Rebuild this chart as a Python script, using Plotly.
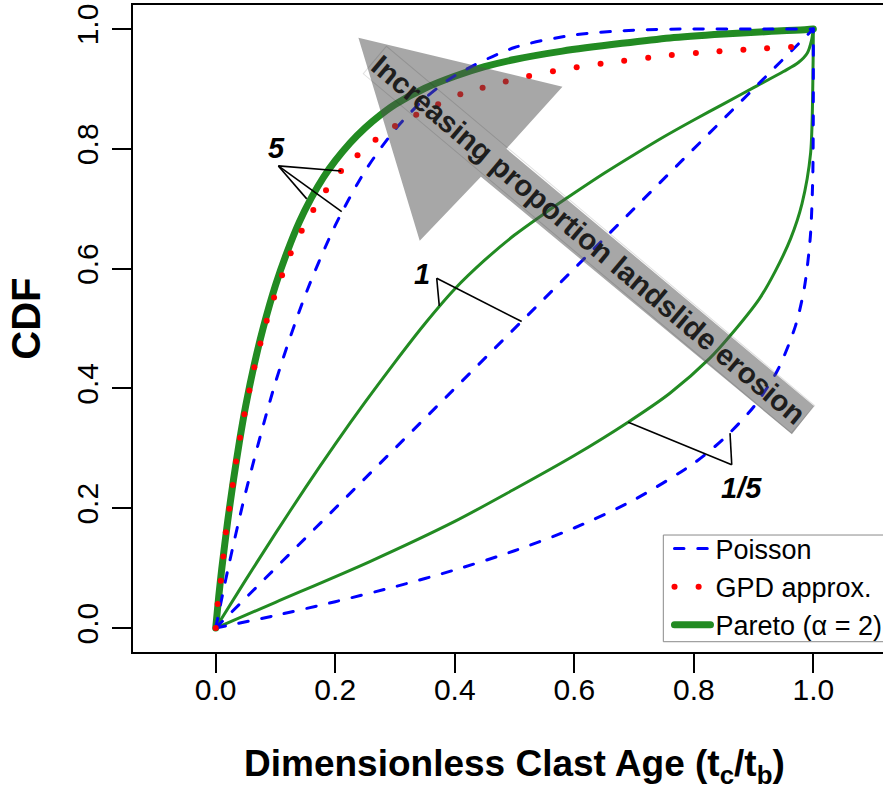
import plotly.graph_objects as go

# ---------------- data ----------------
# Poisson CDFs (blue dashed), for ratios 5, 1 and 1/5
pois5_x = [0, 0.02, 0.05, 0.10, 0.15, 0.20, 0.25, 0.30, 0.35, 0.40, 0.50, 0.60, 0.70, 0.80, 0.90, 1.00]
pois5_y = [0, 0.096, 0.226, 0.410, 0.556, 0.672, 0.763, 0.832, 0.884, 0.922, 0.969, 0.990, 0.998, 1.0, 1.0, 1.0]
pois1_x = [0, 1.0]
pois1_y = [0, 1.0]
pois15_x = [0, 0.10, 0.20, 0.30, 0.40, 0.50, 0.60, 0.70, 0.80, 0.85, 0.90, 0.94, 0.97, 0.985, 0.995, 0.999, 0.9999, 1.0]
pois15_y = [0, 0.021, 0.044, 0.069, 0.097, 0.129, 0.167, 0.214, 0.275, 0.316, 0.369, 0.430, 0.504, 0.568, 0.653, 0.749, 0.842, 1.0]

# Pareto (alpha = 2) CDFs (green)
par5_x = [0, 0.005, 0.01, 0.02, 0.03, 0.04, 0.05, 0.065, 0.08, 0.10, 0.12, 0.14, 0.16, 0.18, 0.20,
          0.225, 0.25, 0.275, 0.30, 0.35, 0.40, 0.45, 0.50, 0.58, 0.68, 0.76, 0.85, 0.93, 0.99, 1.0]
par5_y = [0, 0.052, 0.098, 0.178, 0.249, 0.313, 0.370, 0.442, 0.503, 0.572, 0.629, 0.678, 0.718, 0.752, 0.780,
          0.810, 0.835, 0.856, 0.874, 0.901, 0.921, 0.937, 0.949, 0.963, 0.976, 0.985, 0.9915, 0.996, 0.999, 1.0]
par1_x = [0, 0.05, 0.10, 0.15, 0.20, 0.25, 0.30, 0.35, 0.40, 0.45, 0.50, 0.55, 0.60, 0.65, 0.70,
          0.75, 0.80, 0.85, 0.90, 0.95, 0.975, 0.99, 0.997, 1.0]
par1_y = [0, 0.080, 0.158, 0.234, 0.307, 0.377, 0.444, 0.508, 0.566, 0.614, 0.656, 0.692, 0.726, 0.759, 0.790,
          0.820, 0.848, 0.875, 0.902, 0.929, 0.944, 0.960, 0.981, 1.0]
par15_x = [0, 0.10, 0.258, 0.40, 0.498, 0.60, 0.690, 0.760, 0.827, 0.86, 0.91, 0.936, 0.962, 0.981, 0.9955, 0.9995, 1.0]
par15_y = [0, 0.043, 0.111, 0.178, 0.2308, 0.288, 0.3437, 0.392, 0.4505, 0.487, 0.550, 0.595, 0.650, 0.708, 0.793, 0.935, 1.0]

# GPD approximation for ratio 5 (red dots)
gpd_x = [0, 0.0033, 0.0084, 0.0127, 0.017, 0.0228, 0.0284, 0.034, 0.0407, 0.048, 0.0563, 0.0646, 0.0747,
         0.0853, 0.0976, 0.111, 0.1255, 0.1439, 0.1633, 0.1846, 0.2097, 0.2373, 0.2674, 0.300, 0.3355,
         0.3722, 0.4093, 0.4466, 0.4853, 0.5244, 0.5643, 0.604, 0.644, 0.6835, 0.7237, 0.7632, 0.8035,
         0.843, 0.883, 0.9226, 0.9628]
gpd_y = [0, 0.040, 0.079, 0.1195, 0.160, 0.199, 0.2386, 0.278, 0.3175, 0.357, 0.3965, 0.4355, 0.475,
         0.513, 0.5517, 0.589, 0.6257, 0.663, 0.698, 0.7308, 0.763, 0.789, 0.815, 0.838, 0.857,
         0.8745, 0.891, 0.902, 0.9122, 0.9214, 0.9293, 0.936, 0.9418, 0.947, 0.952, 0.9565, 0.960,
         0.963, 0.9653, 0.9676, 0.970]

x_ticks = [0.0, 0.2, 0.4, 0.6, 0.8, 1.0]
x_tick_labels = ["0.0", "0.2", "0.4", "0.6", "0.8", "1.0"]
y_ticks = [0.0, 0.2, 0.4, 0.6, 0.8, 1.0]
y_tick_labels = ["0.0", "0.2", "0.4", "0.6", "0.8", "1.0"]

# ---------------- styling ----------------
GREEN = "#228B22"
BLUE = "#0000FF"
RED = "#FF0000"
FONT = "Liberation Sans, Arial, Helvetica, sans-serif"
DASH_BLUE = "9.5px,13.8px"
XRANGE = [-0.1384, 1.1166]
YRANGE = [-0.04, 1.04]

fig = go.Figure()

for xs, ys in [(par15_x, par15_y), (par1_x, par1_y)]:
    fig.add_trace(go.Scatter(x=xs, y=ys, mode="lines", showlegend=False, hoverinfo="skip",
                             line=dict(color=GREEN, width=3, shape="spline", smoothing=0.8)))
fig.add_trace(go.Scatter(x=par5_x, y=par5_y, mode="lines", name="Pareto (\u03b1 = 2)", legendrank=3,
                         line=dict(color=GREEN, width=7, shape="spline", smoothing=0.8)))

for i, (xs, ys) in enumerate([(pois5_x, pois5_y), (pois1_x, pois1_y), (pois15_x, pois15_y)]):
    fig.add_trace(go.Scatter(x=xs, y=ys, mode="lines", name="Poisson", legendrank=1,
                             showlegend=(i == 0), hoverinfo="skip",
                             line=dict(color=BLUE, width=3, dash=DASH_BLUE, shape="spline", smoothing=0.8)))

fig.add_trace(go.Scatter(x=gpd_x, y=gpd_y, mode="markers", showlegend=False,
                         marker=dict(color=RED, size=6, line=dict(width=0))))
# legend entry for the dotted GPD line (lives on the label-only overlay axis)
fig.add_trace(go.Scatter(x=[None], y=[None], mode="lines", name="GPD approx.", legendrank=2,
                         xaxis="x2", line=dict(color=RED, width=6, dash="0.1px,24px")))

# ---------------- big translucent arrow ----------------
arrow = [(0.2388, 0.9855), (0.5802, 0.9037), (0.4864, 0.7999), (1.0012, 0.3706),
         (0.9642, 0.3235), (0.4438, 0.7535), (0.3414, 0.6463)]
path = "M " + " L ".join(f"{a},{b}" for a, b in arrow) + " Z"
fig.add_shape(type="path", path=path, xref="x", yref="y", layer="above",
              fillcolor="rgba(80,80,80,0.5)", line=dict(width=0))
fig.add_annotation(x=0.6243, y=0.6486, xref="x", yref="y", text="Increasing proportion landslide erosion",
                   textangle=40, showarrow=False,
                   font=dict(family=FONT, size=29.5, color="#1e1e1e", weight="bold"),
                   bordercolor="rgba(0,0,0,0.12)", borderwidth=1, borderpad=1)

# ---------------- leader lines and labels ----------------
leaders = [
    ((0.1048, 0.7714), (0.2097, 0.7630)),
    ((0.1048, 0.7714), (0.1523, 0.7164)),
    ((0.1048, 0.7714), (0.2108, 0.6951)),
    ((0.3698, 0.5840), (0.3741, 0.5378)),
    ((0.3698, 0.5840), (0.5120, 0.5116)),
    ((0.8635, 0.2725), (0.6904, 0.3437)),
    ((0.8635, 0.2725), (0.8606, 0.3254)),
]
for (x0, y0), (x1, y1) in leaders:
    fig.add_shape(type="line", x0=x0, y0=y0, x1=x1, y1=y1, xref="x", yref="y",
                  layer="above", line=dict(color="black", width=1.6))

for txt, lx, ly in [("5", 0.1021, 0.8009), ("1", 0.3449, 0.5915), ("1/5", 0.880, 0.234)]:
    fig.add_annotation(x=lx, y=ly, xref="x", yref="y", text=txt, showarrow=False,
                       font=dict(family=FONT, size=29, color="black", weight="bold", style="italic"))

# legend frame (open on the right, as in the cropped original)
fig.add_shape(type="rect", xref="paper", yref="paper", x0=0.7071, x1=1.2, y0=0.0159, y1=0.1808,
              layer="above", line=dict(color="#8a8a8a", width=1), fillcolor="rgba(0,0,0,0)")

# ---------------- axis titles ----------------
fig.add_annotation(x=0.5087, y=-0.1765, xref="paper", yref="paper",
                   text="Dimensionless Clast Age (t<sub>c</sub>/t<sub>b</sub>)", showarrow=False,
                   font=dict(family=FONT, size=37, color="black", weight="bold"),
                   xanchor="center", yanchor="middle")
fig.add_annotation(x=-0.143, y=0.5147, xref="paper", yref="paper", text="CDF", textangle=-90,
                   showarrow=False, font=dict(family=FONT, size=40, color="black", weight="bold"),
                   xanchor="center", yanchor="middle")

fig.update_layout(
    width=883, height=785,
    margin=dict(l=133, r=0, t=5, b=133, autoexpand=False),
    paper_bgcolor="white", plot_bgcolor="white",
    font=dict(family=FONT, color="black"),
    showlegend=True,
    legend=dict(x=0.7153, y=0.197, xanchor="left", yanchor="top",
                borderwidth=0, bgcolor="rgba(0,0,0,0)",
                font=dict(family=FONT, size=27, color="black"),
                traceorder="normal", itemwidth=36),
    xaxis=dict(range=XRANGE, tickvals=x_ticks, showticklabels=False,
               showgrid=False, zeroline=False, showline=True, mirror=True,
               linecolor="black", linewidth=1.5, ticks="outside", ticklen=19, tickwidth=1.5,
               tickcolor="black"),
    xaxis2=dict(range=XRANGE, overlaying="x", anchor="y", side="bottom",
                tickvals=x_ticks, ticktext=x_tick_labels, ticks="", showline=False,
                showgrid=False, zeroline=False, ticklabelstandoff=17,
                tickfont=dict(family=FONT, size=30, color="black")),
    yaxis=dict(range=YRANGE, tickvals=y_ticks, ticktext=y_tick_labels,
               showgrid=False, zeroline=False, showline=True,
               linecolor="black", linewidth=1.5, ticks="outside", ticklen=19, tickwidth=1.5,
               tickcolor="black", tickangle=-90, ticklabelstandoff=2,
               tickfont=dict(family=FONT, size=30, color="black")),
)

post = ("document.body.style.margin='0';document.body.style.padding='0';"
        "var s=document.createElement('style');"
        "s.textContent='body{margin:0;} path.js-line, .legendlines path{stroke-linecap:round !important;}';"
        "document.head.appendChild(s);")
fig.write_html("out.html", post_script=post, config={"displayModeBar": False})
